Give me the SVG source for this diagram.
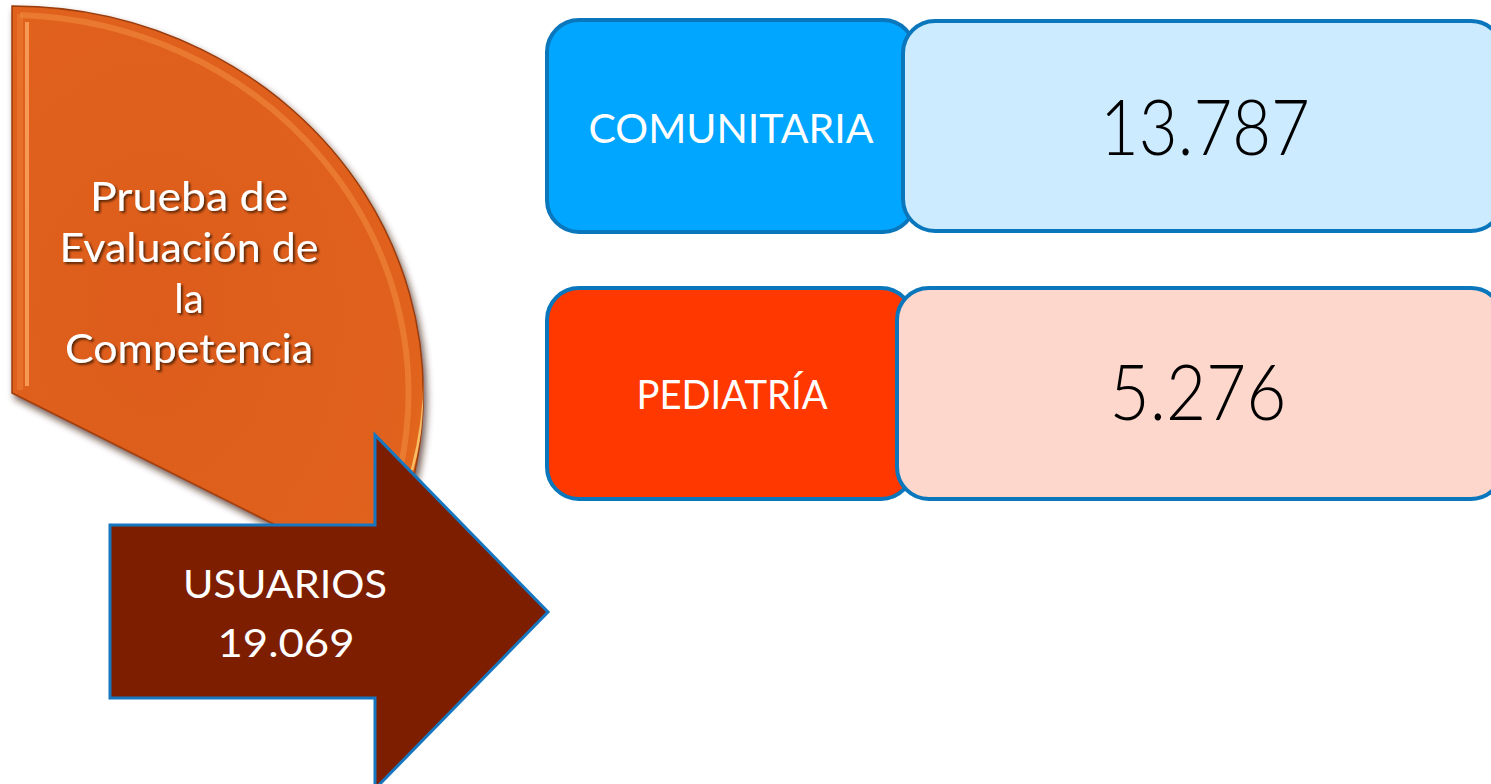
<svg xmlns="http://www.w3.org/2000/svg" width="1491" height="784" viewBox="0 0 1491 784">
  <defs>
    <filter id="shadow" x="-10%" y="-10%" width="130%" height="130%">
      <feDropShadow dx="3" dy="5" stdDeviation="3.5" flood-color="#3a1a08" flood-opacity="0.7"/>
    </filter>
    <filter id="tshadow" x="-10%" y="-20%" width="130%" height="160%">
      <feDropShadow dx="2" dy="2" stdDeviation="1.2" flood-color="#3a1405" flood-opacity="0.8"/>
    </filter>
    <radialGradient id="orangeFill" cx="0.35" cy="0.55" r="0.75">
      <stop offset="0" stop-color="#DD5C1A"/>
      <stop offset="0.85" stop-color="#E0621C"/>
      <stop offset="1" stop-color="#E77424"/>
    </radialGradient>
    <clipPath id="pieClip">
      <path d="M12,6 L12,393 L375,575 A411,387 0 0 0 12,6 Z"/>
    </clipPath>
  </defs>
  <style>
    .lbl { font-family: "Lato", "Liberation Sans", sans-serif; font-weight: 400; fill: #FFFFFF; }
    .num { font-family: "Lato", "Liberation Sans", sans-serif; font-weight: 300; fill: #000000; }
    .box { stroke: #0A77BD; stroke-width: 4; }
  </style>

  <g id="prueba">
    <path d="M12,6 L12,393 L375,575 A411,387 0 0 0 12,6 Z" fill="url(#orangeFill)" stroke="#9A3C0E" stroke-width="1.5" filter="url(#shadow)"/>
    <g clip-path="url(#pieClip)">
      <path d="M27,22 L27,386" stroke="#F7A05C" stroke-width="4" fill="none" opacity="0.9"/>
      <path d="M20,14 L20,390" stroke="#E8762C" stroke-width="6" fill="none" opacity="0.8"/>
      <path d="M400,470 A402,378 0 0 0 20,15" stroke="#F08A3C" stroke-width="6" fill="none" opacity="0.6"/>
      <path d="M412,470 A408,384 0 0 0 330,130" stroke="#FFD27A" stroke-width="2.5" fill="none" opacity="0.8"/>
      <path d="M14,395 L375,576" stroke="#B8470F" stroke-width="4" fill="none" opacity="0.6"/>
    </g>
    <g class="lbl" font-size="40" text-anchor="middle" filter="url(#tshadow)">
      <text x="189" y="211" textLength="198" lengthAdjust="spacingAndGlyphs">Prueba de</text>
      <text x="189" y="262" textLength="259" lengthAdjust="spacingAndGlyphs">Evaluación de</text>
      <text x="189" y="313">la</text>
      <text x="189" y="363" textLength="248" lengthAdjust="spacingAndGlyphs">Competencia</text>
    </g>
  </g>

  <g id="usuarios">
    <polygon points="110,525 375,525 375,435 548,612 375,789 375,698 110,698" fill="#7E1E00" stroke="#1677C0" stroke-width="3"/>
    <text class="lbl" x="285" y="598" font-size="39" text-anchor="middle" textLength="204" lengthAdjust="spacingAndGlyphs">USUARIOS</text>
    <text class="lbl" x="286" y="657" font-size="39" text-anchor="middle" textLength="137" lengthAdjust="spacingAndGlyphs">19.069</text>
  </g>

  <g id="comunitaria">
    <rect class="box" x="547" y="20" width="368" height="212" rx="32" fill="#00A6FF"/>
    <text class="lbl" x="731" y="143" font-size="40" text-anchor="middle" textLength="285" lengthAdjust="spacingAndGlyphs">COMUNITARIA</text>
  </g>
  <g id="comunitaria-valor">
    <rect class="box" x="903" y="21" width="600" height="210" rx="32" fill="#CCEBFF"/>
    <text class="num" x="1205" y="155" font-size="76" text-anchor="middle" textLength="210" lengthAdjust="spacingAndGlyphs">13.787</text>
  </g>

  <g id="pediatria">
    <rect class="box" x="547" y="288" width="366" height="211" rx="32" fill="#FF3800"/>
    <text class="lbl" x="732" y="409" font-size="40" text-anchor="middle" textLength="191" lengthAdjust="spacingAndGlyphs">PEDIATRÍA</text>
  </g>
  <g id="pediatria-valor">
    <rect class="box" x="897" y="288" width="606" height="211" rx="32" fill="#FDD7CC"/>
    <text class="num" x="1198" y="420" font-size="76" text-anchor="middle" textLength="177" lengthAdjust="spacingAndGlyphs">5.276</text>
  </g>

  <g id="connectors"></g>
</svg>
